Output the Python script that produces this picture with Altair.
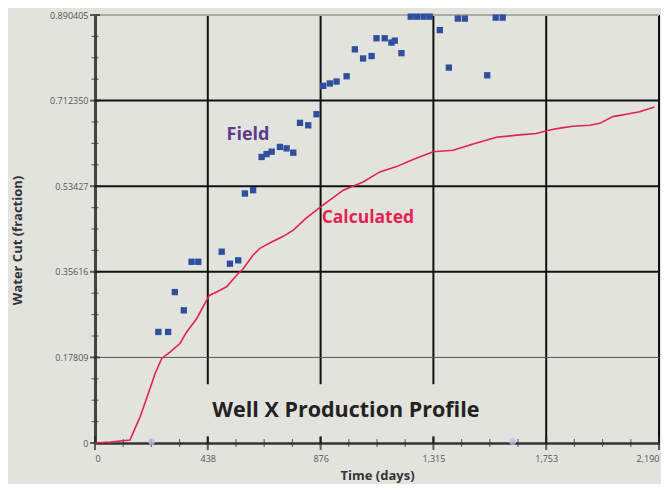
import altair as alt
import pandas as pd

# ---------------- data ----------------
field_t = [246, 284, 310, 345, 375, 401, 492, 524, 556, 582, 614, 647, 666, 686,
           718, 744, 770, 796, 828, 860, 886, 912, 938, 977, 1009, 1041, 1074, 1093,
           1125, 1151, 1164, 1190, 1226, 1251, 1276, 1300, 1339, 1374, 1409, 1436,
           1523, 1556, 1583]
field_v = [0.231, 0.231, 0.314, 0.276, 0.377, 0.377, 0.398, 0.373, 0.380, 0.519,
           0.526, 0.595, 0.601, 0.606, 0.616, 0.613, 0.604, 0.666, 0.661, 0.684,
           0.743, 0.748, 0.752, 0.763, 0.819, 0.800, 0.805, 0.842, 0.842, 0.833,
           0.837, 0.811, 0.887, 0.887, 0.887, 0.887, 0.859, 0.781, 0.883, 0.883,
           0.765, 0.885, 0.885]

faint_t = [220, 1622]
faint_v = [0.003, 0.003]

calc_t = [0, 60, 136, 155, 175, 207, 233, 259, 291, 330, 356, 395, 444, 472, 511,
          550, 576, 614, 640, 686, 731, 770, 820, 876, 964, 1041, 1106, 1171, 1235,
          1313, 1391, 1468, 1559, 1649, 1714, 1757, 1805, 1856, 1921, 1960, 2011,
          2063, 2115, 2172]
calc_v = [0, 0.002, 0.006, 0.030, 0.054, 0.103, 0.144, 0.176, 0.189, 0.207, 0.231,
          0.259, 0.307, 0.314, 0.325, 0.349, 0.363, 0.391, 0.405, 0.418, 0.430,
          0.443, 0.468, 0.491, 0.526, 0.543, 0.564, 0.575, 0.590, 0.606, 0.609,
          0.622, 0.636, 0.641, 0.644, 0.650, 0.655, 0.659, 0.661, 0.665, 0.679,
          0.684, 0.689, 0.699]

x_ticks = [0, 438, 876, 1314, 1752, 2190]
x_labels = ["0", "438", "876", "1,315", "1,753", "2,190"]
y_step = 0.178081
y_ticks = [0, 0.178081, 0.356162, 0.534243, 0.712324, 0.890405]
y_labels = ["0", "0.17809", "0.35616", "0.53427", "0.712350", "0.890405"]

x_minor = [t for i in range(5) for t in [x_ticks[i] + 109.5 * k for k in (1, 2, 3)]]
y_minor = [v for i in range(5) for v in [y_ticks[i] + y_step / 4 * k for k in (1, 2, 3)]]

# ---------------- style ----------------
BG = "#e3e3de"
FONT = "Open Sans"
xscale = alt.Scale(domain=[0, 2190], nice=False, zero=False)
yscale = alt.Scale(domain=[0, 0.890405], nice=False, zero=False)

x_label_expr = "[" + ",".join(f"'{s}'" for s in x_labels) + "][round(datum.value/438)]"
y_label_expr = "[" + ",".join(f"'{s}'" for s in y_labels) + f"][round(datum.value/{y_step})]"

xaxis = alt.Axis(values=x_ticks, labelExpr=x_label_expr, tickSize=0, grid=False,
                 domainColor="#333333", domainWidth=2.5, labelFontSize=9,
                 labelColor="#555555", labelPadding=11, labelFont=FONT,
                 title="Time (days)", titleFont=FONT, titleFontSize=13,
                 titleFontWeight="bold", titleColor="#333333", titlePadding=6)
yaxis = alt.Axis(values=y_ticks, labelExpr=y_label_expr, tickSize=0, grid=False,
                 domainColor="#444444", domainWidth=3, labelFontSize=9,
                 labelColor="#555555", labelPadding=7, labelFont=FONT,
                 title="Water Cut (fraction)", titleFont=FONT, titleFontSize=13,
                 titleFontWeight="bold", titleColor="#333333", titleX=-71, titleY=225)


def X(field):
    return alt.X(field, type="quantitative", scale=xscale, axis=xaxis)


def Y(field):
    return alt.Y(field, type="quantitative", scale=yscale, axis=yaxis)


field_df = pd.DataFrame({"t": field_t, "v": field_v})
faint_df = pd.DataFrame({"t": faint_t, "v": faint_v})
calc_df = pd.DataFrame({"t": calc_t, "v": calc_v})

vgrid = alt.Chart(pd.DataFrame({"t": x_ticks[1:]})).mark_rule(
    color="#111111", strokeWidth=2).encode(x=X("t"))
hgrid_thick = alt.Chart(pd.DataFrame({"v": y_ticks[2:5]})).mark_rule(
    color="#111111", strokeWidth=2).encode(y=Y("v"))
hgrid_thin = alt.Chart(pd.DataFrame({"v": [y_ticks[1]]})).mark_rule(
    color="#555555", strokeWidth=1).encode(y=Y("v"))
hgrid_top = alt.Chart(pd.DataFrame({"v": [y_ticks[5]]})).mark_rule(
    color="#a9a9a5", strokeWidth=2).encode(y=Y("v"))

cover = alt.Chart(pd.DataFrame({"a": [0]})).mark_rect(color=BG).encode(
    x=alt.datum(300, scale=xscale), x2=alt.datum(1620),
    y=alt.datum(0.0125, scale=yscale), y2=alt.datum(0.122))

xmaj = alt.Chart(pd.DataFrame({"t": x_ticks, "v": [0] * len(x_ticks)})).mark_tick(
    orient="vertical", color="#222222", thickness=2, size=14).encode(x=X("t"), y=Y("v"))
xmin = alt.Chart(pd.DataFrame({"t": x_minor, "v": [0] * len(x_minor)})).mark_tick(
    orient="vertical", color="#333333", thickness=1.2, size=8).encode(x=X("t"), y=Y("v"))
ymin = alt.Chart(pd.DataFrame({"t": [0] * len(y_minor), "v": y_minor})).mark_tick(
    orient="horizontal", color="#333333", thickness=1.2, size=7).encode(x=X("t"), y=Y("v"))
ymaj = alt.Chart(pd.DataFrame({"t": [0] * len(y_ticks), "v": y_ticks})).mark_tick(
    orient="horizontal", color="#222222", thickness=2, size=10).encode(x=X("t"), y=Y("v"))

line = alt.Chart(calc_df).mark_line(color="#e3224d", strokeWidth=1.6).encode(
    x=X("t"), y=Y("v"))
faint = alt.Chart(faint_df).mark_point(filled=True, shape="circle", size=45,
                                        color="#b3c0e4", opacity=0.8).encode(
    x=X("t"), y=Y("v"))
pts = alt.Chart(field_df).mark_point(filled=True, shape="square", size=40,
                                      color="#2d4f9e", opacity=1).encode(
    x=X("t"), y=Y("v"))

t_field = alt.Chart(pd.DataFrame({"a": [0]})).mark_text(
    text="Field", font=FONT, fontSize=18, fontWeight="bold", color="#5b3b8e",
    align="center", baseline="middle").encode(
    x=alt.datum(594, scale=xscale), y=alt.datum(0.640, scale=yscale))
t_calc = alt.Chart(pd.DataFrame({"a": [0]})).mark_text(
    text="Calculated", font=FONT, fontSize=17.5, fontWeight="bold", color="#e3224d",
    align="left", baseline="middle").encode(
    x=alt.datum(880, scale=xscale), y=alt.datum(0.468, scale=yscale))
t_title = alt.Chart(pd.DataFrame({"a": [0]})).mark_text(
    text="Well X Production Profile", font=FONT, fontSize=21.5, fontWeight="bold",
    color="#222222", align="center", baseline="middle").encode(
    x=alt.datum(974, scale=xscale), y=alt.datum(0.066, scale=yscale))

chart = alt.layer(
    vgrid, hgrid_thick, hgrid_thin, hgrid_top, cover,
    xmin, xmaj, ymin, ymaj, line, faint, pts, t_field, t_calc, t_title
).properties(
    width=564, height=428,
    autosize=alt.AutoSizeParams(type="none"),
    padding={"left": 87, "top": 7, "right": 2, "bottom": 41},
    background=BG,
).configure_view(stroke=None, fill=BG)

chart.save("out.html", embed_options={"renderer": "svg", "actions": False})
